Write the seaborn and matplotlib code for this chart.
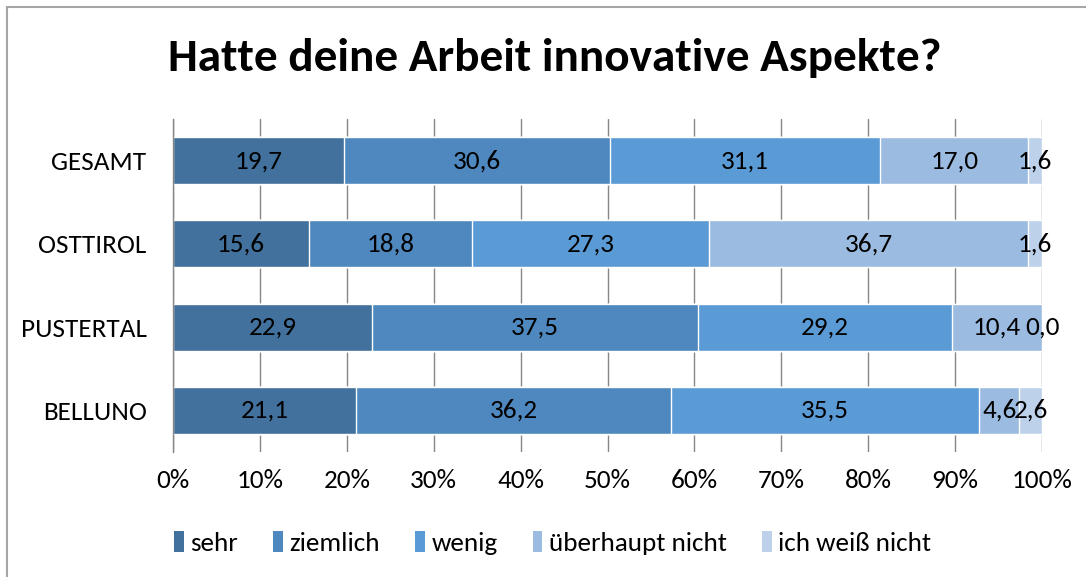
import numpy as np
import pandas as pd
import matplotlib
matplotlib.use("Agg")
import matplotlib.pyplot as plt
import seaborn as sns
from matplotlib.patches import Rectangle, Patch

# data
regions = ["GESAMT", "OSTTIROL", "PUSTERTAL", "BELLUNO"]
answers = ["sehr", "ziemlich", "wenig", "überhaupt nicht", "ich weiß nicht"]
sehr = [19.7, 15.6, 22.9, 21.1]
ziemlich = [30.6, 18.8, 37.5, 36.2]
wenig = [31.1, 27.3, 29.2, 35.5]
ueberhaupt_nicht = [17.0, 36.7, 10.4, 4.6]
weiss_nicht = [1.6, 1.6, 0.0, 2.6]
xticks = [0, 10, 20, 30, 40, 50, 60, 70, 80, 90, 100]

colors = ["#41719C", "#4E88BE", "#5B9BD5", "#9BBBE0", "#BDD1EB"]

sns.set_style("white", {"text.color": "black", "axes.labelcolor": "black",
                        "xtick.color": "black", "ytick.color": "black"})
plt.rcParams["font.family"] = ["Carlito", "Lato", "DejaVu Sans"]

df = pd.DataFrame({"region": regions, "sehr": sehr, "ziemlich": ziemlich,
                   "wenig": wenig, "überhaupt nicht": ueberhaupt_nicht,
                   "ich weiß nicht": weiss_nicht})
cum = df[answers].cumsum(axis=1)

fig = plt.figure(figsize=(10.86, 5.77), dpi=100)
ax = fig.add_axes([0.1593, 0.2166, 0.8002, 0.5772])

# stacked bars: draw cumulative totals from the longest down
for col, c in reversed(list(zip(answers, colors))):
    sns.barplot(x=cum[col], y=df["region"], order=regions, color=c,
                width=0.565, ax=ax, saturation=1, zorder=2)

fs = 19.5
# value labels centered in each segment
for i, r in enumerate(regions):
    for col in answers:
        v = df.loc[i, col]
        mid = cum.loc[i, col] - v / 2
        ax.text(mid, i, f"{v:.1f}".replace(".", ","), ha="center", va="center",
                fontsize=fs, color="black", zorder=3)

ax.set_xlim(0, 100)
ax.set_xticks(xticks)
ax.set_xticklabels([f"{t}%" for t in xticks], fontsize=fs, color="black")
ax.tick_params(axis="x", length=0, pad=12, labelcolor="black")
ax.tick_params(axis="y", length=0, pad=19, labelsize=fs, labelcolor="black")
ax.set_xlabel("")
ax.set_ylabel("")
ax.grid(axis="x", color="#868686", linewidth=1, zorder=0)
ax.set_axisbelow(True)
for s in ["top", "right", "bottom"]:
    ax.spines[s].set_visible(False)
ax.spines["left"].set_color("#868686")
ax.spines["left"].set_linewidth(1)

fig.suptitle("Hatte deine Arbeit innovative Aspekte?", x=0.511, y=0.90,
             va="center", fontsize=34, fontweight="bold", color="black")

handles = [Patch(facecolor=c, edgecolor="none") for c in colors]
leg = fig.legend(handles, answers, loc="center", bbox_to_anchor=(0.509, 0.059),
                 ncol=5, frameon=False, fontsize=fs, handlelength=0.35,
                 handleheight=0.8, handletextpad=0.25, columnspacing=1.3)
for t in leg.get_texts():
    t.set_color("black")

# outer chart border
fig.patches.append(Rectangle((7 / 1086, -0.05), 1.2, 1.05 - 7 / 577,
                             transform=fig.transFigure, fill=False,
                             edgecolor="#A6A6A6", linewidth=1.5))

fig.savefig("out.png", dpi=100)
